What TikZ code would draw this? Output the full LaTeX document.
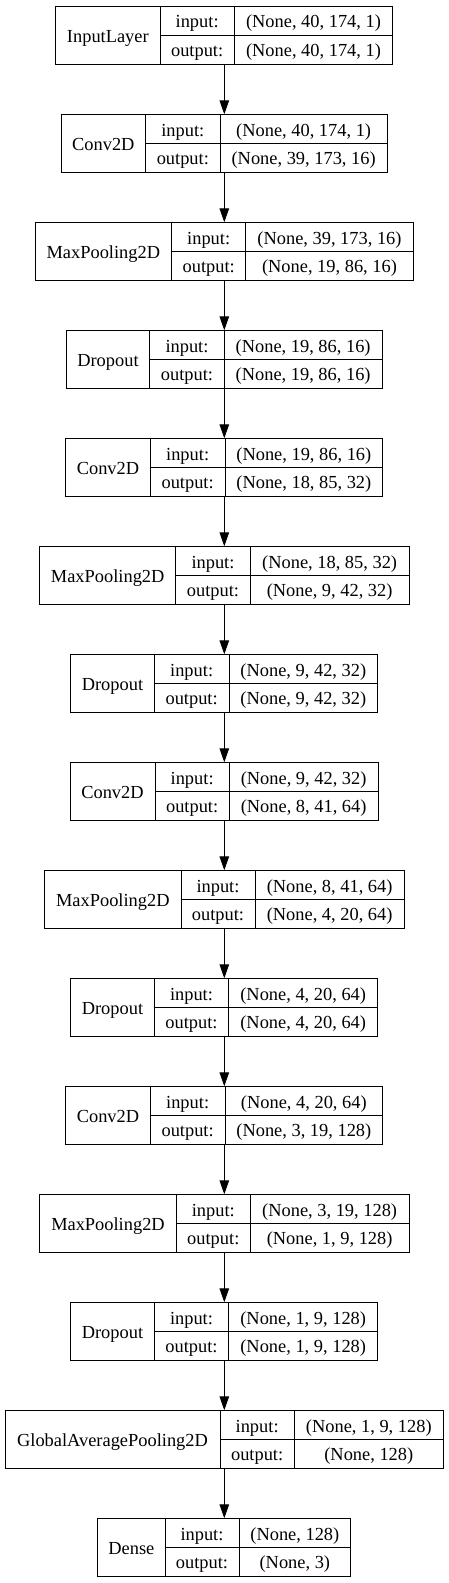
\documentclass[tikz,border=0pt]{standalone}
\usepackage{fontspec}
\setmainfont{Liberation Serif}
\usetikzlibrary{arrows.meta}
\tikzset{
  box/.style={draw, line width=1pt, minimum height=58.5pt, inner sep=0pt, outer sep=0pt},
  ln/.style={line width=1pt},
  txt/.style={anchor=base, inner sep=0pt, font=\fontsize{18.4}{22}\selectfont},
  arr/.style={line width=1pt, -{Triangle[length=14pt, width=9.5pt]}}
}
% name, top, L, d1, d2, R, label, in, out
\newcommand{\klayer}[9]{%
  \node[box, minimum width={(#6)-(#3)}, anchor=north west] (#1) at (#3,#2) {};
  \draw[ln] (#4,#2) -- ++(0,58.5);
  \draw[ln] (#5,#2) -- ++(0,58.5);
  \draw[ln] (#4,{#2+29.25}) -- (#6,{#2+29.25});
  \node[txt] (#1-l) at ({(#3+#4)/2},{#2+36.5}) {#7};
  \node[txt] (#1-ik) at ({(#4+#5)/2},{#2+21.7}) {input:};
  \node[txt] (#1-ok) at ({(#4+#5)/2},{#2+50.2}) {output:};
  \node[txt] (#1-iv) at ({(#5+#6)/2},{#2+21.7}) {#8};
  \node[txt] (#1-ov) at ({(#5+#6)/2},{#2+50.2}) {#9};
}
\begin{document}
\begin{tikzpicture}[x=1pt, y=-1pt]
\useasboundingbox (0,0) rectangle (449,1583);
\coordinate (ax) at (224.3,0);
\klayer{b1}{6}{55.7}{160}{234.3}{392.7}{InputLayer}{(None, 40, 174, 1)}{(None, 40, 174, 1)}
\klayer{b2}{114.3}{61}{145.7}{220}{387.3}{Conv2D}{(None, 40, 174, 1)}{(None, 39, 173, 16)}
\klayer{b3}{222.3}{35}{171.7}{245.7}{413.3}{MaxPooling2D}{(None, 39, 173, 16)}{(None, 19, 86, 16)}
\klayer{b4}{330.3}{66.3}{149.7}{224.3}{382}{Dropout}{(None, 19, 86, 16)}{(None, 19, 86, 16)}
\klayer{b5}{438.3}{65.7}{150.3}{225}{382.7}{Conv2D}{(None, 19, 86, 16)}{(None, 18, 85, 32)}
\klayer{b6}{546.3}{39.7}{175.7}{250.3}{409}{MaxPooling2D}{(None, 18, 85, 32)}{(None, 9, 42, 32)}
\klayer{b7}{654.3}{70.7}{154.3}{229}{377.7}{Dropout}{(None, 9, 42, 32)}{(None, 9, 42, 32)}
\klayer{b8}{762.3}{70}{155}{229.3}{378}{Conv2D}{(None, 9, 42, 32)}{(None, 8, 41, 64)}
\klayer{b9}{870.3}{44.7}{181}{255}{404.3}{MaxPooling2D}{(None, 8, 41, 64)}{(None, 4, 20, 64)}
\klayer{b10}{978.3}{70.7}{154.3}{228.7}{377.7}{Dropout}{(None, 4, 20, 64)}{(None, 4, 20, 64)}
\klayer{b11}{1086.3}{65.7}{150.3}{225}{382.7}{Conv2D}{(None, 4, 20, 64)}{(None, 3, 19, 128)}
\klayer{b12}{1194.3}{39.7}{176.3}{250.3}{409}{MaxPooling2D}{(None, 3, 19, 128)}{(None, 1, 9, 128)}
\klayer{b13}{1302.3}{70.7}{154.3}{228.7}{377.7}{Dropout}{(None, 1, 9, 128)}{(None, 1, 9, 128)}
\klayer{b14}{1410.3}{5}{220}{294.3}{443.3}{GlobalAveragePooling2D}{(None, 1, 9, 128)}{(None, 128)}
\klayer{b15}{1518.3}{97.7}{165}{239}{350.7}{Dense}{(None, 128)}{(None, 3)}
\foreach \a/\b in {b1/b2,b2/b3,b3/b4,b4/b5,b5/b6,b6/b7,b7/b8,b8/b9,b9/b10,b10/b11,b11/b12,b12/b13,b13/b14,b14/b15}
  \draw[arr] (\a.south -| ax) -- (\b.north -| ax);
\end{tikzpicture}
\end{document}
